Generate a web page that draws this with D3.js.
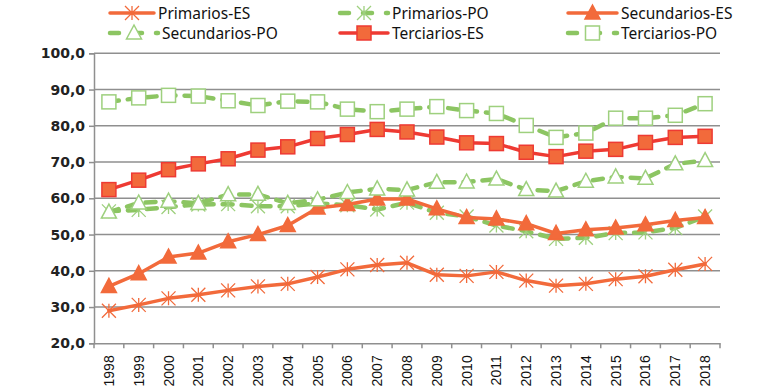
<!DOCTYPE html>
<html>
<head>
<meta charset="utf-8">
<script src="https://cdn.jsdelivr.net/npm/d3@7"></script>
<style>
  body { margin: 0; background: #fff; }
  svg { display: block; }
</style>
</head>
<body>
<svg id="chart" width="768" height="387"></svg>
<script>
const years = ['1998','1999','2000','2001','2002','2003','2004','2005','2006','2007','2008',
  '2009','2010','2011','2012','2013','2014','2015','2016','2017','2018'];

const primariosES   = [29.0,30.6,32.4,33.4,34.6,35.7,36.4,38.3,40.4,41.6,42.2,38.9,38.6,39.7,37.3,35.9,36.4,37.7,38.5,40.3,41.9];
const primariosPO   = [56.4,56.8,57.6,58.3,58.4,57.8,57.8,58.6,58.1,56.9,58.8,56.0,55.0,52.5,50.9,48.8,49.1,50.4,50.6,51.8,55.0];
const secundariosES = [35.7,39.2,43.8,44.9,48.0,50.0,52.5,57.3,58.3,59.8,59.8,57.1,54.7,54.3,53.0,50.3,51.3,51.8,52.7,53.9,54.7];
const secundariosPO = [56.2,58.7,59.2,58.6,61.0,61.1,58.6,59.6,61.6,62.6,62.3,64.4,64.5,65.3,62.4,62.0,64.7,65.9,65.5,69.5,70.4];
const terciariosES  = [62.4,65.0,67.9,69.5,70.9,73.3,74.2,76.5,77.6,79.0,78.3,76.9,75.3,75.1,72.7,71.5,73.0,73.5,75.4,76.8,77.1];
const terciariosPO  = [86.6,87.7,88.4,88.2,86.9,85.6,86.8,86.6,84.6,83.9,84.6,85.3,84.2,83.4,80.1,76.8,78.0,82.1,82.1,82.9,86.1];

const yTicks = [20,30,40,50,60,70,80,90,100];

const ORANGE = '#F26A3B', RED = '#EE3A33', GREEN = '#8CC562', GREEN_LT = '#9ED07E';

const series = [
  { name: 'Primarios-ES',   values: primariosES,   color: ORANGE, dash: null, marker: 'star', mStroke: ORANGE, mFill: 'none' },
  { name: 'Primarios-PO',   values: primariosPO,   color: GREEN,  dash: '10,9', marker: 'star', mStroke: GREEN_LT, mFill: 'none' },
  { name: 'Secundarios-ES', values: secundariosES, color: ORANGE, dash: null, marker: 'triangle', mStroke: ORANGE, mFill: ORANGE },
  { name: 'Secundarios-PO', values: secundariosPO, color: GREEN,  dash: '10,9', marker: 'triangle', mStroke: GREEN_LT, mFill: '#fff' },
  { name: 'Terciarios-ES',  values: terciariosES,  color: RED,    dash: null, marker: 'square', mStroke: RED, mFill: ORANGE },
  { name: 'Terciarios-PO',  values: terciariosPO,  color: GREEN,  dash: '10,9', marker: 'square', mStroke: GREEN_LT, mFill: '#fff' }
];

const svg = d3.select('#chart');
const plotLeft = 94, plotRight = 720, plotTop = 53.3, plotBottom = 343.3;

const x = d3.scaleBand().domain(years).range([plotLeft, plotRight]);
const y = d3.scaleLinear().domain([20, 100]).range([plotBottom, plotTop]);

// grid
svg.append('g')
  .selectAll('line')
  .data(yTicks.slice(1))
  .join('line')
  .attr('x1', plotLeft).attr('x2', plotRight)
  .attr('y1', d => y(d)).attr('y2', d => y(d))
  .attr('stroke', '#8f8f8f').attr('stroke-width', 1.5);

// y axis
const yAxis = svg.append('g')
  .attr('transform', 'translate(' + plotLeft + ',0)')
  .call(d3.axisLeft(y).tickValues(yTicks).tickSize(5).tickPadding(4)
    .tickFormat(d => d3.format('.1f')(d).replace('.', ',')));
yAxis.select('.domain').attr('stroke', '#8f8f8f').attr('stroke-width', 1.5);
yAxis.selectAll('.tick line').attr('stroke', '#8f8f8f').attr('stroke-width', 1.5);
yAxis.selectAll('text')
  .attr('font-family', 'DejaVu Sans').attr('font-size', 14).attr('font-weight', 'bold')
  .attr('fill', '#222');

// x axis
const xAxis = svg.append('g')
  .attr('transform', 'translate(0,' + plotBottom + ')')
  .call(d3.axisBottom(x).tickSize(0).tickPadding(0));
xAxis.select('.domain').attr('stroke', '#8f8f8f').attr('stroke-width', 1.5);
xAxis.selectAll('.tick text')
  .attr('font-family', 'Liberation Sans').attr('font-size', 14).attr('fill', '#111')
  .attr('text-anchor', 'end')
  .attr('transform', 'translate(5,12) rotate(-90)')
  .attr('dy', 0);
// boundary ticks
svg.append('g')
  .selectAll('line')
  .data(years.map(d => x(d)).concat([plotRight]))
  .join('line')
  .attr('x1', d => d).attr('x2', d => d)
  .attr('y1', plotBottom).attr('y2', plotBottom + 5)
  .attr('stroke', '#8f8f8f').attr('stroke-width', 1.5);

function drawMarker(g, type, cx, cy, s) {
  if (type === 'square') {
    g.append('rect').attr('x', cx - 7).attr('y', cy - 7).attr('width', 14).attr('height', 14)
      .attr('fill', s.mFill).attr('stroke', s.mStroke).attr('stroke-width', 1.5);
  } else if (type === 'triangle') {
    g.append('path')
      .attr('d', 'M' + cx + ',' + (cy - 8) + 'L' + (cx + 7.5) + ',' + (cy + 6) + 'L' + (cx - 7.5) + ',' + (cy + 6) + 'Z')
      .attr('fill', s.mFill).attr('stroke', s.mStroke).attr('stroke-width', 1.5);
  } else {
    const r = 7;
    g.append('path')
      .attr('d', 'M' + cx + ',' + (cy - r) + 'V' + (cy + r) +
        'M' + (cx - r) + ',' + (cy - r) + 'L' + (cx + r) + ',' + (cy + r) +
        'M' + (cx - r) + ',' + (cy + r) + 'L' + (cx + r) + ',' + (cy - r))
      .attr('fill', 'none').attr('stroke', s.mStroke).attr('stroke-width', 1.3);
  }
}

const line = d3.line()
  .x((d, i) => x(years[i]) + x.bandwidth() / 2)
  .y(d => y(d));

series.forEach(s => {
  const g = svg.append('g');
  g.append('path')
    .datum(s.values)
    .attr('d', line)
    .attr('fill', 'none')
    .attr('stroke', s.color)
    .attr('stroke-width', s.dash ? 4.5 : 3.5)
    .attr('stroke-linecap', 'round')
    .attr('stroke-linejoin', 'round')
    .attr('stroke-dasharray', s.dash);
  s.values.forEach((v, i) => drawMarker(g, s.marker, x(years[i]) + x.bandwidth() / 2, y(v), s));
});

// legend
const legendPos = [
  { lx: 110, tx: 158, ly: 13 }, { lx: 340, tx: 392, ly: 13 }, { lx: 568, tx: 621, ly: 13 },
  { lx: 110, tx: 162, ly: 33 }, { lx: 340, tx: 392, ly: 33 }, { lx: 568, tx: 621, ly: 33 }
];
series.forEach((s, i) => {
  const p = legendPos[i];
  const g = svg.append('g');
  const x2 = p.tx - 4;
  g.append('line')
    .attr('x1', p.lx).attr('x2', x2).attr('y1', p.ly).attr('y2', p.ly)
    .attr('stroke', s.color).attr('stroke-width', s.dash ? 4.5 : 3.5)
    .attr('stroke-linecap', 'round')
    .attr('stroke-dasharray', s.dash ? '9,14' : null);
  drawMarker(g, s.marker, (p.lx + x2) / 2, p.ly, s);
  g.append('text')
    .attr('x', p.tx).attr('y', p.ly + 5.5)
    .attr('font-family', 'Noto Sans').attr('font-size', 15.5).attr('fill', '#111')
    .text(s.name);
});
</script>
</body>
</html>
